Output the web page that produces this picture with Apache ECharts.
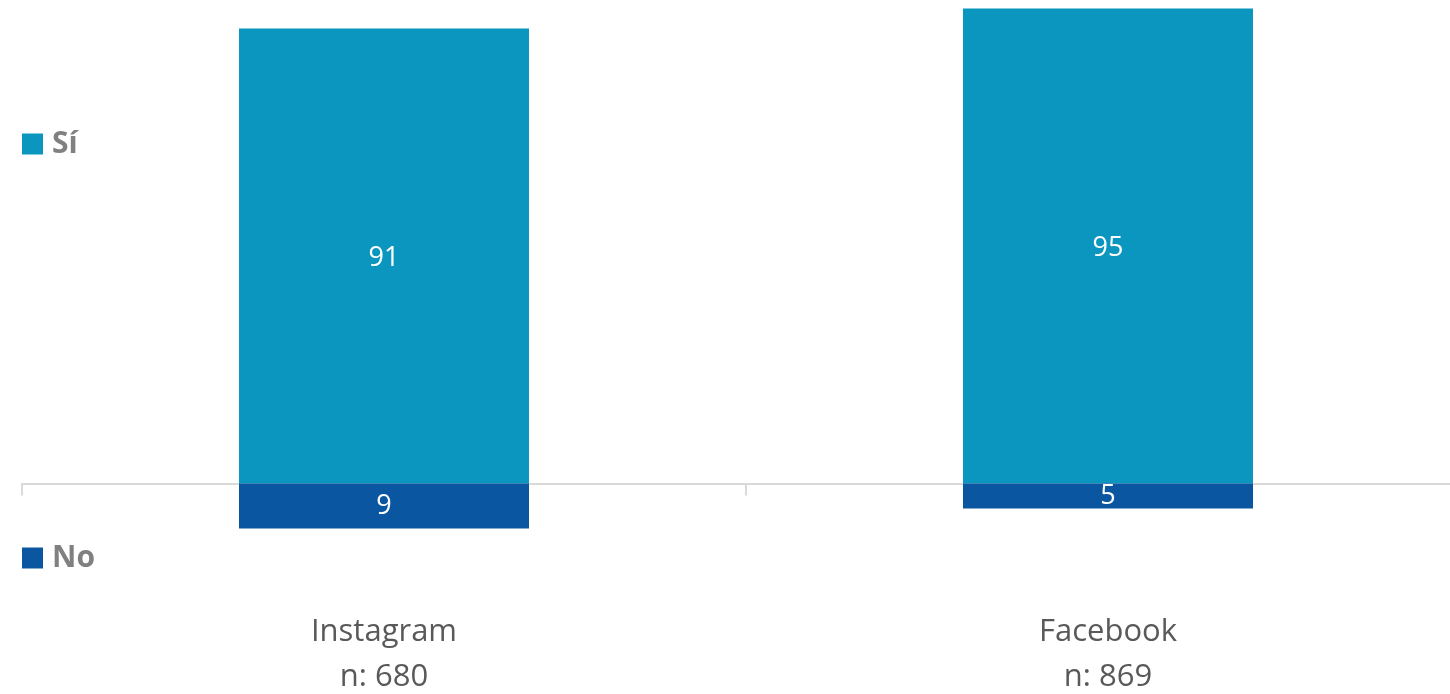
<!DOCTYPE html>
<html><head><meta charset="utf-8">
<script src="https://cdn.jsdelivr.net/npm/echarts@6/dist/echarts.min.js"></script>
<style>html,body{margin:0;padding:0;background:#fff}#c{width:1450px;height:694px}</style>
</head><body><div id="c"></div>
<script>
var categories = ['Instagram\nn: 680', 'Facebook\nn: 869'];
var siValues = [91, 95];
var noValues = [9, 5];
var seriesNames = ['Sí', 'No'];

var chart = echarts.init(document.getElementById('c'), null, {renderer: 'canvas'});
var FONT = '"Open Sans", sans-serif';
chart.setOption({
  animation: false,
  backgroundColor: '#ffffff',
  grid: {left: 22, right: -20, top: 3.5, bottom: 110.5, containLabel: false, outerBoundsMode: 'none'},
  legend: [
    {data: [seriesNames[0]], left: 22, top: 129, padding: 0, itemWidth: 21, itemHeight: 21, itemGap: 8,
     icon: 'rect', textStyle: {color: '#808080', fontSize: 30, fontWeight: 'bold', fontFamily: FONT, padding: [0,0,0,4]}},
    {data: [seriesNames[1]], left: 22, top: 543, padding: 0, itemWidth: 21, itemHeight: 21, itemGap: 8,
     icon: 'rect', textStyle: {color: '#808080', fontSize: 30, fontWeight: 'bold', fontFamily: FONT, padding: [0,0,0,4]}}
  ],
  xAxis: {
    type: 'category', data: categories,
    axisLine: {onZero: true, lineStyle: {color: '#D9D9D9', width: 2}},
    axisTick: {show: true, length: 12, lineStyle: {color: '#D9D9D9', width: 2}},
    axisLabel: {margin: 26, color: '#595959', fontSize: 31, lineHeight: 45, fontFamily: FONT},
    splitLine: {show: false}
  },
  yAxis: {
    type: 'value', min: -20, max: 96, show: false, splitLine: {show: false}
  },
  series: [
    {name: seriesNames[0], type: 'bar', stack: 'a', data: siValues, barWidth: 290,
     itemStyle: {color: '#0A96BE'},
     label: {show: true, position: 'inside', offset: [0, 2], color: '#ffffff', fontSize: 27, fontFamily: FONT}},
    {name: seriesNames[1], type: 'bar', stack: 'a', data: noValues.map(function(v){return -v;}), barWidth: 290,
     itemStyle: {color: '#0A56A0'},
     label: {show: true, position: 'inside', color: '#ffffff', fontSize: 27, fontFamily: FONT,
       formatter: function(p){return Math.abs(p.value);}}}
  ]
});
</script></body></html>
